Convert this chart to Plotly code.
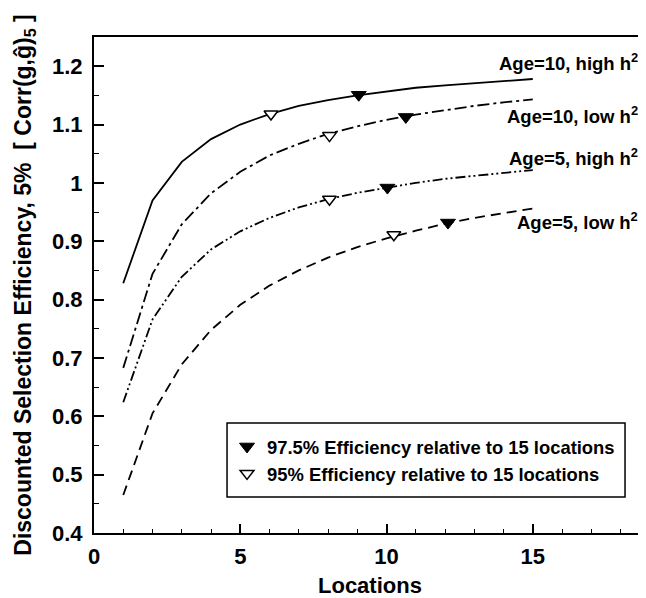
import plotly.graph_objects as go

# ---- data ----
locations = list(range(1, 16))
age10_high = [0.828, 0.970, 1.036, 1.075, 1.100, 1.118, 1.132, 1.142, 1.150, 1.157, 1.163, 1.167, 1.171, 1.175, 1.178]
age10_low = [0.683, 0.844, 0.929, 0.982, 1.019, 1.047, 1.067, 1.084, 1.097, 1.108, 1.117, 1.125, 1.132, 1.138, 1.143]
age5_high = [0.624, 0.766, 0.839, 0.886, 0.917, 0.940, 0.958, 0.972, 0.983, 0.992, 1.000, 1.007, 1.012, 1.017, 1.022]
age5_low = [0.465, 0.605, 0.689, 0.748, 0.791, 0.824, 0.850, 0.872, 0.890, 0.905, 0.918, 0.930, 0.940, 0.948, 0.956]

# 97.5 % efficiency markers (filled) and 95 % markers (open)
eff975_x = [9.05, 10.66, 10.03, 12.1]
eff975_y = [1.151, 1.113, 0.992, 0.932]
eff95_x = [6.05, 8.05, 8.05, 10.25]
eff95_y = [1.118, 1.081, 0.972, 0.911]

curve_labels = ["Age=10, high h<sup>2</sup>", "Age=10, low h<sup>2</sup>",
                "Age=5, high h<sup>2</sup>", "Age=5, low h<sup>2</sup>"]
label_y = [1.208, 1.117, 1.045, 0.934]

y_tickvals = [0.4, 0.5, 0.6, 0.7, 0.8, 0.9, 1.0, 1.1, 1.2]
y_ticktext = ["0.4", "0.5", "0.6", "0.7", "0.8", "0.9", "1", "1.1", "1.2"]
x_tickvals = [0, 5, 10, 15]
x_ticktext = ["0", "5", "10", "15"]

FONT = "Liberation Sans, Arial, sans-serif"
BFONT = dict(family=FONT, color="black", weight="bold")

fig = go.Figure()
line_styles = [
    (age10_high, "solid"),
    (age10_low, "12px,4px,3px,4px"),
    (age5_high, "10px,3px,2px,3px,2px,3px"),
    (age5_low, "10px,6px"),
]
for ys, dash in line_styles:
    fig.add_trace(go.Scatter(x=locations, y=ys, mode="lines",
                             line=dict(color="black", width=1.8, dash=dash),
                             showlegend=False, hoverinfo="skip"))

fig.add_trace(go.Scatter(x=eff975_x, y=eff975_y, mode="markers",
                         name="97.5% Efficiency relative to 15 locations",
                         marker=dict(symbol="triangle-down", size=13, color="black",
                                     line=dict(color="black", width=1))))
fig.add_trace(go.Scatter(x=eff95_x, y=eff95_y, mode="markers",
                         name="95% Efficiency relative to 15 locations",
                         marker=dict(symbol="triangle-down", size=12, color="white",
                                     line=dict(color="black", width=1.5))))

for txt, yv in zip(curve_labels, label_y):
    fig.add_annotation(x=18.67, y=yv, xref="x", yref="y", text=txt, showarrow=False,
                       xanchor="right", yanchor="middle",
                       font=dict(BFONT, size=18.5))

# legend frame
fig.add_shape(type="rect", xref="paper", yref="paper",
              x0=0.241, x1=0.962, y0=0.0726, y1=0.2218,
              line=dict(color="black", width=1.5), fillcolor="white", layer="above")

fig.add_annotation(x=0.5, y=-0.105, xref="paper", yref="paper",
                   text="Locations", showarrow=False, xanchor="center", yanchor="middle",
                   font=dict(BFONT, size=22))

fig.update_xaxes(range=[0, 18.87], tickvals=x_tickvals, ticktext=x_ticktext,
                 ticks="inside", ticklen=9, tickwidth=1.5, tickcolor="black",
                 minor=dict(ticks="inside", dtick=1, tick0=0, ticklen=4, tickwidth=1.2, tickcolor="black"),
                 showline=True, linecolor="black", linewidth=2, mirror=True,
                 showgrid=False, zeroline=False,
                 tickfont=dict(BFONT, size=22),
                 ticklabelstandoff=3)
fig.update_yaxes(range=[0.4, 1.25], tickvals=y_tickvals, ticktext=y_ticktext,
                 ticks="inside", ticklen=10, tickwidth=1.5, tickcolor="black",
                 minor=dict(ticks="inside", dtick=0.05, tick0=0.4, ticklen=5, tickwidth=1.2, tickcolor="black"),
                 showline=True, linecolor="black", linewidth=2,
                 showgrid=False, zeroline=False,
                 tickfont=dict(BFONT, size=22),
                 ticklabelstandoff=5,
                 title=dict(text="Discounted Selection Efficiency, 5%  [ Corr(g,ĝ)<sub>5</sub> ]",
                            font=dict(BFONT, size=23), standoff=14))

# the page body has an 8px margin, so the figure is 8px smaller and its margins 8px less
fig.update_layout(
    width=638, height=590,
    margin=dict(l=86, r=0, t=29, b=65),
    paper_bgcolor="white", plot_bgcolor="white",
    font=dict(family=FONT, color="black"),
    legend=dict(x=0.241, y=0.2117, xanchor="left", yanchor="top",
                borderwidth=0, bgcolor="rgba(0,0,0,0)",
                font=dict(BFONT, size=18.4),
                tracegroupgap=0, itemwidth=30),
)

fig.write_html("out.html")
